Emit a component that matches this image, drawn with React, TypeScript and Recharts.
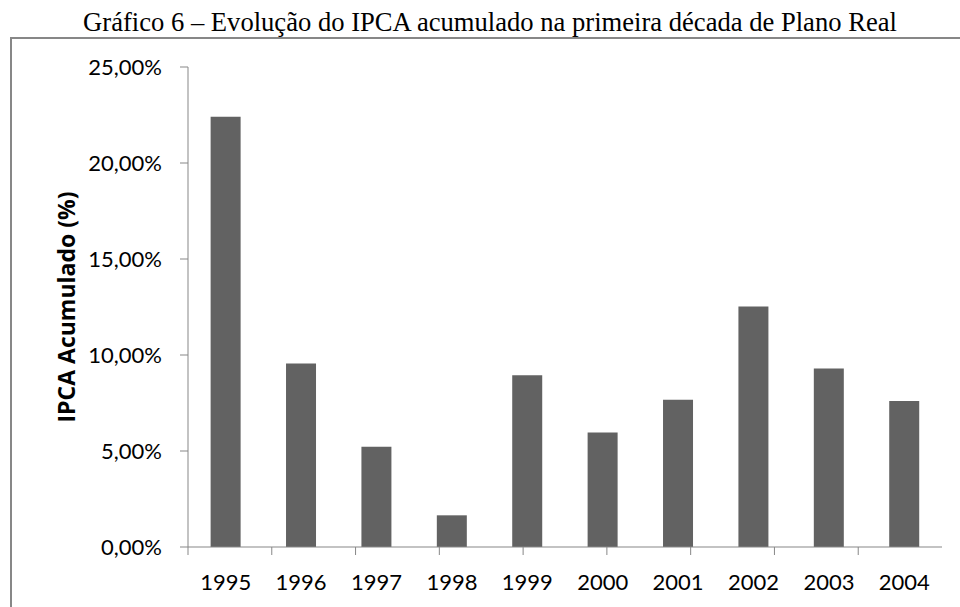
import { BarChart, Bar, XAxis, YAxis } from 'recharts'

const years = ['1995', '1996', '1997', '1998', '1999', '2000', '2001', '2002', '2003', '2004']
const ipca = [22.41, 9.56, 5.22, 1.65, 8.94, 5.97, 7.67, 12.53, 9.3, 7.6]
const yTicks = [0, 5, 10, 15, 20, 25]
const boundaryTicks = [0, 1, 2, 3, 4, 5, 6, 7, 8, 9, 10]

const data = years.map((year, i) => ({ year, ipca: ipca[i] }))

const AXIS = '#878787'
const FONT = 'Lato, "Open Sans", sans-serif'

const fmt = (v: number) => `${v.toFixed(2).replace('.', ',')}%`

export default function App() {
  return (
    <div style={{ position: 'fixed', left: 0, top: 0, width: 960, height: 607, background: '#fff' }}>
      <div
        style={{
          position: 'absolute',
          left: 0,
          width: 980,
          top: 7,
          textAlign: 'center',
          fontFamily: '"Liberation Serif", "Times New Roman", serif',
          fontSize: 26.6,
          lineHeight: '30px',
          color: '#000',
          whiteSpace: 'nowrap',
        }}
      >
        Gráfico 6 – Evolução do IPCA acumulado na primeira década de Plano Real
      </div>
      <div
        style={{
          position: 'absolute',
          left: 10,
          top: 37,
          width: 960,
          height: 580,
          borderLeft: `2px solid ${AXIS}`,
          borderTop: `2px solid ${AXIS}`,
        }}
      />
      <div style={{ position: 'absolute', left: 0, top: 0 }}>
        <BarChart
          width={960}
          height={607}
          data={data}
          margin={{ top: 67, right: 18, bottom: 0, left: 0 }}
          barCategoryGap="30%"
        >
          <XAxis
            xAxisId="a"
            type="number"
            domain={[0, 10]}
            ticks={boundaryTicks}
            height={1}
            stroke={AXIS}
            tickSize={8}
            tick={() => <g />}
            allowDataOverflow
          />
          <XAxis
            xAxisId="b"
            dataKey="year"
            height={59}
            axisLine={false}
            tickLine={false}
            tickMargin={20}
            tick={{ fill: '#000', fontSize: 22, fontFamily: FONT }}
            interval={0}
          />
          <YAxis
            width={188}
            domain={[0, 25]}
            ticks={yTicks}
            tickFormatter={fmt}
            stroke={AXIS}
            tickSize={8}
            tickMargin={18}
            tick={{ fill: '#000', fontSize: 22, fontFamily: FONT }}
            label={{
              value: 'IPCA Acumulado (%)',
              angle: -90,
              position: 'insideLeft',
              offset: 67,
              style: {
                textAnchor: 'middle',
                fontWeight: 'bold',
                fontSize: 23,
                fontFamily: '"Open Sans", sans-serif',
                fill: '#000',
              },
            }}
          />
          <Bar xAxisId="b" dataKey="ipca" fill="#626262" isAnimationActive={false} />
        </BarChart>
      </div>
    </div>
  )
}
